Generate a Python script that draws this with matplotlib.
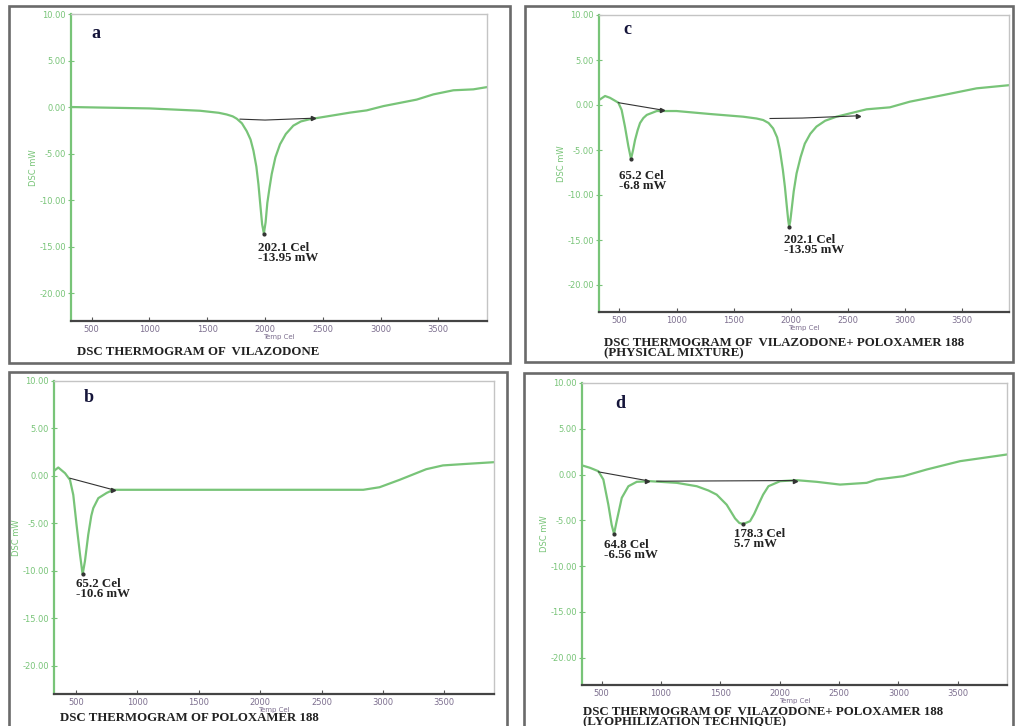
import matplotlib
matplotlib.use("Agg")
import matplotlib.pyplot as plt
from matplotlib.patches import Rectangle

W, H = 1015, 726
GREEN = "#78c478"
TICKX = "#7d6f8f"
DARK = "#222222"

# ---- data (temperature axis in instrument units: 500 = 50.0 Cel) ----
temp_a = [321, 1000, 1438, 1600, 1668, 1720, 1755, 1800, 1842, 1875, 1900, 1925, 1943, 1960,
          1975, 1990, 2005, 2020, 2040, 2058, 2090, 2130, 2180, 2245, 2310, 2390, 2505,
          2736, 2880, 3025, 3313, 3457, 3630, 3803, 3920]
dsc_a = [0.0, -0.15, -0.4, -0.62, -0.8, -1.0, -1.25, -1.75, -2.6, -3.5, -4.7, -6.4, -8.3,
         -10.6, -12.6, -13.6, -12.4, -10.3, -8.6, -7.2, -5.4, -4.0, -2.9, -2.0, -1.55,
         -1.3, -1.07, -0.6, -0.36, 0.1, 0.8, 1.36, 1.8, 1.9, 2.14]
base_a_t = [1784, 2000, 2419]
base_a_y = [-1.3, -1.4, -1.2]

temp_b = [322, 356, 411, 451, 478, 505, 533, 554, 573, 600, 625, 641, 682, 750, 804,
          2840, 2973, 3136, 3353, 3489, 3679, 3904]
dsc_b = [0.53, 0.88, 0.28, -0.42, -2.0, -5.2, -8.3, -10.4, -9.0, -6.2, -4.2, -3.4, -2.35,
         -1.8, -1.47, -1.47, -1.2, -0.42, 0.7, 1.1, 1.26, 1.44]
base_b_t = [451, 804]
base_b_y = [-0.25, -1.47]

temp_c = [322, 375, 418, 491, 520, 549, 579, 602, 620, 637, 660, 681, 710, 740, 827, 1000,
          1292, 1583, 1700, 1758, 1805, 1845, 1880, 1904, 1930, 1948, 1965, 1977, 1985,
          1995, 2006, 2025, 2050, 2085, 2122, 2170, 2224, 2300, 2399, 2662, 2866, 3041,
          3332, 3624, 3908]
dsc_c = [0.55, 1.0, 0.8, 0.26, -0.55, -2.4, -4.6, -6.0, -5.0, -3.9, -2.8, -2.0, -1.45,
         -1.1, -0.67, -0.67, -1.0, -1.3, -1.5, -1.67, -2.0, -2.6, -3.6, -5.0, -7.2, -9.1,
         -11.3, -12.8, -13.5, -12.9, -11.7, -9.6, -7.6, -5.8, -4.3, -3.2, -2.4, -1.75,
         -1.3, -0.48, -0.26, 0.37, 1.1, 1.85, 2.2]
base_c1_t = [491, 870]
base_c1_y = [0.26, -0.55]
base_c2_t = [1818, 2100, 2590]
base_c2_y = [-1.5, -1.45, -1.2]

temp_d = [334, 402, 472, 514, 556, 584, 604, 626, 669, 725, 795, 907, 1132, 1301, 1400,
          1469, 1553, 1624, 1660, 1694, 1750, 1785, 1820, 1860, 1905, 2003, 2143, 2312,
          2508, 2733, 2817, 3042, 3239, 3520, 3716, 3915]
dsc_d = [1.0, 0.73, 0.36, -0.55, -3.3, -5.5, -6.5, -5.1, -2.55, -1.28, -0.8, -0.73, -0.91,
         -1.28, -1.75, -2.2, -3.3, -4.8, -5.3, -5.4, -5.1, -4.3, -3.3, -2.2, -1.28, -0.73,
         -0.62, -0.8, -1.1, -0.91, -0.55, -0.18, 0.55, 1.46, 1.82, 2.19]
base_d1_t = [472, 879]
base_d1_y = [0.29, -0.66]
base_d2_t = [964, 2129]
base_d2_y = [-0.73, -0.66]

xticks = [500, 1000, 1500, 2000, 2500, 3000, 3500]
xtick_labels = ["500", "1000", "1500", "2000", "2500", "3000", "3500"]
yticks = [10, 5, 0, -5, -10, -15, -20]
ytick_labels = ["10.00", "5.00", "0.00", "-5.00", "-10.00", "-15.00", "-20.00"]

fig = plt.figure(figsize=(W / 100, H / 100), dpi=100)
fig.patch.set_facecolor("white")

SERIF = ["Liberation Serif", "DejaVu Serif"]


def box(x0, y0, x1, y1):
    fig.add_artist(Rectangle((x0 / W, 1 - y1 / H), (x1 - x0) / W, (y1 - y0) / H,
                             transform=fig.transFigure, fill=False,
                             edgecolor="#6a6a6a", linewidth=1.9, zorder=0))


def make_ax(l, r, t, b, xlim):
    ax = fig.add_axes([l / W, 1 - b / H, (r - l) / W, (b - t) / H])
    ax.set_xlim(*xlim)
    ax.set_ylim(-23.0, 10.0)
    ax.set_xticks(xticks)
    ax.set_xticklabels(xtick_labels)
    ax.set_yticks(yticks)
    ax.set_yticklabels(ytick_labels)
    ax.tick_params(axis="x", direction="in", length=3, width=0.8, colors="#555555",
                   labelsize=6, labelcolor=TICKX, pad=3)
    ax.tick_params(axis="y", direction="inout", length=5, width=0.8, colors=GREEN,
                   labelsize=6, labelcolor=GREEN, pad=1)
    ax.spines["left"].set_color(GREEN)
    ax.spines["left"].set_linewidth(1.6)
    ax.spines["bottom"].set_color("#444444")
    ax.spines["bottom"].set_linewidth(1.6)
    for s in ("top", "right"):
        ax.spines[s].set_color("#c4c4c4")
        ax.spines[s].set_linewidth(1.0)
    ax.set_xlabel("Temp Cel", fontsize=5, color=TICKX, labelpad=0)
    ax.set_ylabel("DSC mW", fontsize=6, color=GREEN)
    ax.yaxis.set_label_coords(-33 / (r - l), 0.5)
    return ax


def annotate(ax, x, y, text):
    ax.text(x, y, text, fontsize=9.3, fontweight="bold", family=SERIF, color=DARK,
            va="top", ha="left", linespacing=0.8)


def panel_label(x, y, s):
    fig.text(x / W, 1 - y / H, s, fontsize=13, fontweight="bold", family=SERIF,
             color="#15153a", ha="left", va="center")


def title(x, y, s):
    fig.text(x / W, 1 - y / H, s, fontsize=9.3, fontweight="bold", family=SERIF,
             color=DARK, ha="left", va="top", linespacing=0.78)


# boxes
box(9, 6, 510, 363)
box(525, 6, 1013, 362)
box(9, 372, 507, 735)
box(524, 373, 1013, 735)

# ---- panel a ----
ax = make_ax(71, 487, 14, 321, (321, 3921))
ax.plot(temp_a, dsc_a, color=GREEN, lw=1.6)
ax.plot(base_a_t, base_a_y, color="#333333", lw=0.8)
ax.plot([base_a_t[-1]], [base_a_y[-1]], marker=">", ms=3, color="#333333")
ax.plot([1990], [-13.6], marker="o", ms=2, color="#333333")
annotate(ax, 1943, -14.5, "202.1 Cel\n-13.95 mW")
panel_label(91, 33, "a")
title(77, 346, "DSC THERMOGRAM OF  VILAZODONE")

# ---- panel c ----
ax = make_ax(599, 1009, 15, 312, (322, 3908))
ax.plot(temp_c, dsc_c, color=GREEN, lw=1.6)
ax.plot(base_c1_t, base_c1_y, color="#333333", lw=0.8)
ax.plot(base_c2_t, base_c2_y, color="#333333", lw=0.8)
ax.plot([base_c1_t[-1], base_c2_t[-1]], [base_c1_y[-1], base_c2_y[-1]], ls="none",
        marker=">", ms=3, color="#333333")
ax.plot([602, 1985], [-6.0, -13.5], ls="none", marker="o", ms=2, color="#333333")
annotate(ax, 500, -7.2, "65.2 Cel\n-6.8 mW")
annotate(ax, 1943, -14.3, "202.1 Cel\n-13.95 mW")
panel_label(623, 30, "c")
title(604, 337, "DSC THERMOGRAM OF  VILAZODONE+ POLOXAMER 188\n(PHYSICAL MIXTURE)")

# ---- panel b ----
ax = make_ax(54, 494, 381, 694, (321, 3905))
ax.plot(temp_b, dsc_b, color=GREEN, lw=1.6)
ax.plot(base_b_t, base_b_y, color="#333333", lw=0.8)
ax.plot([base_b_t[-1]], [base_b_y[-1]], marker=">", ms=3, color="#333333")
ax.plot([554], [-10.4], marker="o", ms=2, color="#333333")
annotate(ax, 500, -10.8, "65.2 Cel\n-10.6 mW")
panel_label(84, 398, "b")
title(60, 712, "DSC THERMOGRAM OF POLOXAMER 188")

# ---- panel d ----
ax = make_ax(582, 1007, 383, 685, (334, 3915))
ax.plot(temp_d, dsc_d, color=GREEN, lw=1.6)
ax.plot(base_d1_t, base_d1_y, color="#333333", lw=0.8)
ax.plot(base_d2_t, base_d2_y, color="#333333", lw=0.8)
ax.plot([base_d1_t[-1], base_d2_t[-1]], [base_d1_y[-1], base_d2_y[-1]], ls="none",
        marker=">", ms=3, color="#333333")
ax.plot([604, 1694], [-6.5, -5.4], ls="none", marker="o", ms=2, color="#333333")
annotate(ax, 522, -7.0, "64.8 Cel\n-6.56 mW")
annotate(ax, 1615, -5.85, "178.3 Cel\n5.7 mW")
panel_label(615, 403, "d")
title(583, 706, "DSC THERMOGRAM OF  VILAZODONE+ POLOXAMER 188\n(LYOPHILIZATION TECHNIQUE)")

fig.savefig("out.png", dpi=100, facecolor="white")
